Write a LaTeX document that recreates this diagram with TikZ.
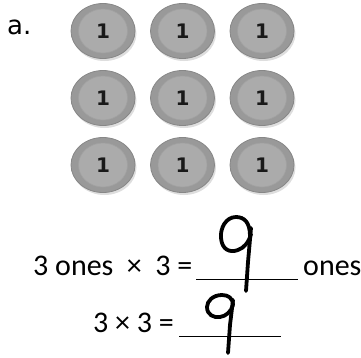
\documentclass[tikz,border=0pt]{standalone}
\usepackage{fontspec}
\setmainfont{Carlito}
\newfontfamily\labelfont{DejaVu Sans}
\usetikzlibrary{shapes.geometric, positioning}

\tikzset{
    coinshadow/.style={ellipse, minimum width=64pt, minimum height=55pt, fill=black!13, inner sep=0pt},
    coinouter/.style={ellipse, minimum width=64pt, minimum height=55pt, fill=black!40, draw=black!47, line width=0.8pt, inner sep=0pt},
    coininner/.style={ellipse, minimum width=49pt, minimum height=44pt, fill=black!33, draw=black!37, line width=0.6pt, inner sep=0pt,
        font=\labelfont\bfseries\fontsize{20}{20}\selectfont, text=black!90},
    eqtext/.style={anchor=base west, inner sep=0pt, font=\fontsize{30}{30}\selectfont},
    hand/.style={line width=3.8pt, line cap=round, line join=round},
}

\begin{document}
\begin{tikzpicture}[x=1pt, y=-1pt]
    \useasboundingbox (0,0) rectangle (361,357);

    % label
    \node[anchor=base west, inner sep=0pt, font=\labelfont\fontsize{26}{26}\selectfont] (lbl) at (7,34) {a.};

    % coins
    \foreach \col/\cx in {1/103, 2/182.5, 3/262} {
        \foreach \row/\cy in {1/31, 2/98, 3/165} {
            \node[coinshadow] at (\cx+1.5,\cy+2.5) {};
            \node[coinouter] (coin\row\col) at (\cx,\cy) {};
            \node[coininner] at (\cx,\cy) {1};
        }
    }

    % equations
    \node[eqtext] (eqone) at (33,275) {3 ones~~×~ 3 =};
    \node[eqtext] (eqones) at (303,275) {ones};
    \node[eqtext] (eqtwo) at (93,332) {3 × 3 =};

    \draw[line width=1pt] (196,279) -- (298,279);
    \draw[line width=1pt] (179,336) -- (281,336);

    % handwritten answers
    \draw[hand] (250,236) .. controls (250,222) and (244,217) .. (236,217)
        .. controls (226,217) and (220,228) .. (221,238)
        .. controls (222,250) and (230,253) .. (238,250)
        .. controls (244,248) and (249,242) .. (251,234);
    \draw[hand] (251,228) -- (248,262) -- (246,291);

    \draw[hand] (233,305) .. controls (233,298) and (228,295) .. (222,295)
        .. controls (213,295) and (207,301) .. (207,307)
        .. controls (207,315) and (214,318) .. (220,317)
        .. controls (226,316) and (231,312) .. (233,305);
    \draw[hand] (233,300) -- (230,325) -- (228,353);
\end{tikzpicture}
\end{document}
